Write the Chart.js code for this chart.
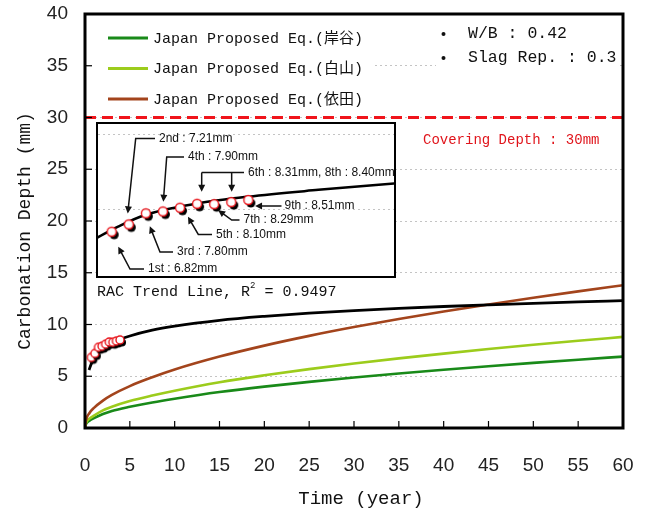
<!DOCTYPE html>
<html><head><meta charset="utf-8">
<script src="https://cdn.jsdelivr.net/npm/chart.js@4.4.1/dist/chart.umd.min.js"></script>
<style>
html,body{margin:0;padding:0;background:#fff;}
#wrap{position:relative;width:649px;height:515px;overflow:hidden;}
#main{position:absolute;left:0;top:0;}
#insetBox{position:absolute;left:96px;top:122px;width:300px;height:156px;box-sizing:border-box;border:2px solid #000;background:#fff;}
#inset{display:block;}
</style></head><body>
<div id="wrap">
<canvas id="main" width="649" height="515"></canvas>
<div id="insetBox"><canvas id="inset" width="296" height="152"></canvas></div>
</div>
<script>
// ---------------- data ----------------
const xTicks = [0,5,10,15,20,25,30,35,40,45,50,55,60];
const yTicks = [0,5,10,15,20,25,30,35,40];
const timeYears = [0, 0.1, 0.5, 1, 2, 3, 5, 7.5, 10, 15, 20, 25, 30, 35, 40, 45, 50, 55, 60];
const kishitani = [0, 0.35, 0.7, 0.95, 1.35, 1.65, 2.05, 2.47, 2.83, 3.47, 4.0, 4.46, 4.88, 5.27, 5.63, 5.97, 6.29, 6.60, 6.90];
const shiroyama = [0, 0.45, 0.9, 1.2, 1.7, 2.05, 2.6, 3.13, 3.6, 4.42, 5.09, 5.69, 6.23, 6.73, 7.19, 7.63, 8.04, 8.43, 8.80];
const yoda      = [0, 0.7, 1.45, 1.95, 2.65, 3.2, 4.05, 4.9, 5.65, 6.9, 7.96, 8.9, 9.75, 10.53, 11.26, 11.94, 12.59, 13.2, 13.79];
const seriesNames = ['Japan Proposed Eq.(岸谷)', 'Japan Proposed Eq.(白山)', 'Japan Proposed Eq.(依田)'];
const trendT = [0.45, 0.7, 1, 1.5, 2, 3, 4, 5, 7.5, 10, 15, 20, 25, 30, 35, 40, 45, 50, 55, 60];
const trendY = [5.60, 6.20, 6.69, 7.25, 7.64, 8.19, 8.59, 8.89, 9.45, 9.84, 10.40, 10.79, 11.10, 11.35, 11.56, 11.74, 11.90, 12.05, 12.18, 12.30];
const measT = [0.7, 1.1, 1.5, 1.9, 2.3, 2.7, 3.1, 3.5, 3.9];
const measY = [6.82, 7.21, 7.80, 7.90, 8.10, 8.31, 8.29, 8.40, 8.51];
const measNames = ['1st','2nd','3rd','4th','5th','6th','7th','8th','9th'];
const coverT = [0, 60];
const coverY = [30, 30];
const insetTrendT = [0.36, 0.85, 1.48, 2.73, 3.9, 5.54, 7.34];
const insetTrendY = [6.50, 7.09, 7.71, 8.33, 8.69, 9.05, 9.40];
const insetGrid = [8, 12];
const r2Value = '0.9497';
const wbValue = '0.42';
const slagValue = '0.3';
const coverLabel = 'Covering Depth : 30mm';

// ---------------- helpers ----------------
const pts = (xs, ys) => xs.map((x, i) => ({x: x, y: ys[i]}));
const MONO = "'Liberation Mono','Noto Sans CJK JP',monospace";
const SANS = "'Liberation Sans',Arial,sans-serif";

function makeMarker(r, off){
  const s = 2*Math.ceil(r + off + 3);
  const c = document.createElement('canvas'); c.width = s; c.height = s;
  const g = c.getContext('2d'); const cx = s/2, cy = s/2;
  g.fillStyle = '#000'; g.beginPath(); g.arc(cx+off, cy+off*1.2, r, 0, 2*Math.PI); g.fill();
  g.fillStyle = '#fff'; g.strokeStyle = '#e8141b'; g.lineWidth = 1.4;
  g.beginPath(); g.arc(cx, cy, r, 0, 2*Math.PI); g.fill(); g.stroke();
  return c;
}

// ---------------- main chart ----------------
const mainDecor = {
  id: 'mainDecor',
  beforeDatasetsDraw(chart){
    const ctx = chart.ctx;
    ctx.save();
    ctx.fillStyle = '#fff';
    ctx.fillRect(88, 18, 287, 94);
    ctx.fillRect(436, 18, 184, 56);
    ctx.restore();
  },
  afterDraw(chart){
    const ctx = chart.ctx, a = chart.chartArea;
    const xs = chart.scales.x, ys = chart.scales.y;
    ctx.save();
    // inward ticks
    ctx.strokeStyle = '#000'; ctx.lineWidth = 1.2;
    xs.ticks.forEach(t => {
      if (t.value <= xs.min || t.value >= xs.max) return;
      const p = xs.getPixelForValue(t.value);
      ctx.beginPath(); ctx.moveTo(p, a.bottom); ctx.lineTo(p, a.bottom - 7); ctx.stroke();
    });
    ys.ticks.forEach(t => {
      if (t.value <= ys.min || t.value >= ys.max) return;
      const p = ys.getPixelForValue(t.value);
      ctx.beginPath(); ctx.moveTo(a.left, p); ctx.lineTo(a.left + 7, p); ctx.stroke();
    });
    // frame
    ctx.lineWidth = 3; ctx.strokeStyle = '#000';
    ctx.strokeRect(a.left, a.top, a.right - a.left, a.bottom - a.top);
    // legend
    ctx.textBaseline = 'middle'; ctx.textAlign = 'left';
    ctx.font = '15px ' + MONO;
    const legendY = [38, 68.5, 99];
    chart.data.datasets.filter(d => d.inLegend).forEach((d, i) => {
      ctx.strokeStyle = d.borderColor; ctx.lineWidth = 3;
      ctx.beginPath(); ctx.moveTo(108, legendY[i]); ctx.lineTo(148, legendY[i]); ctx.stroke();
      ctx.fillStyle = '#111'; ctx.fillText(d.label, 153, legendY[i] + 1);
    });
    // info
    ctx.font = '16.5px ' + MONO; ctx.fillStyle = '#111';
    ctx.beginPath(); ctx.arc(443.5, 34, 2, 0, 2*Math.PI); ctx.fill();
    ctx.beginPath(); ctx.arc(443.5, 58, 2, 0, 2*Math.PI); ctx.fill();
    ctx.fillText('W/B : ' + wbValue, 468, 34);
    ctx.fillText('Slag Rep. : ' + slagValue, 468, 58);
    // covering depth label
    ctx.font = '14px ' + MONO; ctx.fillStyle = '#e0141b';
    ctx.fillText(coverLabel, 423, 140);
    // R2 label
    ctx.font = '15px ' + MONO; ctx.fillStyle = '#111';
    const t1 = 'RAC Trend Line, R';
    ctx.fillText(t1, 97, 292);
    let w = ctx.measureText(t1).width;
    ctx.font = '9px ' + MONO;
    ctx.fillText('2', 97 + w, 286);
    const w2 = ctx.measureText('2').width;
    ctx.font = '15px ' + MONO;
    ctx.fillText(' = ' + r2Value, 97 + w + w2, 292);
    // axis titles
    ctx.font = '19px ' + MONO; ctx.fillStyle = '#111'; ctx.textAlign = 'center';
    ctx.fillText('Time (year)', 361, 499);
    ctx.translate(25, 231); ctx.rotate(-Math.PI/2);
    ctx.font = '18px ' + MONO;
    ctx.fillText('Carbonation Depth (mm)', 0, 0);
    ctx.restore();
  }
};

const markerMain = makeMarker(4, 2);
const markerInset = makeMarker(4.5, 2.5);

new Chart(document.getElementById('main'), {
  type: 'scatter',
  data: {
    datasets: [
      {label: seriesNames[0], inLegend: true, data: pts(timeYears, kishitani), showLine: true, borderColor: '#198a19', borderWidth: 2.6, pointRadius: 0, cubicInterpolationMode: 'monotone', order: 5},
      {label: seriesNames[1], inLegend: true, data: pts(timeYears, shiroyama), showLine: true, borderColor: '#9ccc1c', borderWidth: 2.6, pointRadius: 0, cubicInterpolationMode: 'monotone', order: 4},
      {label: seriesNames[2], inLegend: true, data: pts(timeYears, yoda), showLine: true, borderColor: '#a3441c', borderWidth: 2.6, pointRadius: 0, cubicInterpolationMode: 'monotone', order: 3},
      {label: 'RAC Trend', data: pts(trendT, trendY), showLine: true, borderColor: '#000', borderWidth: 2.8, pointRadius: 0, cubicInterpolationMode: 'monotone', order: 2},
      {label: 'Measured', data: pts(measT, measY), showLine: false, pointStyle: markerMain, pointRadius: 5, order: 1},
      {label: 'Covering Depth', data: pts(coverT, coverY), showLine: true, borderColor: '#f0141b', borderWidth: 3, borderDash: [11, 6], pointRadius: 0, order: 6}
    ]
  },
  options: {
    responsive: false, animation: false, events: [],
    layout: {autoPadding: false, padding: {top: 14, right: 26, left: 0, bottom: 0}},
    plugins: {legend: {display: false}, tooltip: {enabled: false}},
    scales: {
      x: {
        type: 'linear', min: 0, max: 60,
        afterBuildTicks: s => { s.ticks = xTicks.map(v => ({value: v})); },
        ticks: {font: {family: SANS, size: 19}, color: '#222', padding: 26, maxRotation: 0},
        grid: {display: false, drawTicks: false},
        border: {display: false},
        afterFit: s => { s.height = 87; s.paddingLeft = 0; s.paddingRight = 0; }
      },
      y: {
        min: 0, max: 40,
        afterBuildTicks: s => { s.ticks = yTicks.map(v => ({value: v})); },
        ticks: {font: {family: SANS, size: 19}, color: '#222', padding: 17},
        grid: {color: '#c4c4c4', lineWidth: 1, drawTicks: false},
        border: {display: false, dash: [2, 3]},
        afterFit: s => { s.width = 85; s.paddingTop = 0; s.paddingBottom = 0; }
      }
    }
  },
  plugins: [mainDecor]
});

// ---------------- inset chart ----------------
const insetNotes = [
  {idx: [0], text: measNames[0] + ' : ' + measY[0].toFixed(2) + 'mm', tx: 50, ty: 145, elbow: 32, end: [[6.6, 15]]},
  {idx: [1], text: measNames[1] + ' : ' + measY[1].toFixed(2) + 'mm', tx: 61, ty: 14.5, elbow: 37.7, end: [[-1, -11]]},
  {idx: [2], text: measNames[2] + ' : ' + measY[2].toFixed(2) + 'mm', tx: 79, ty: 128, elbow: 62, end: [[4, 13]]},
  {idx: [3], text: measNames[3] + ' : ' + measY[3].toFixed(2) + 'mm', tx: 90, ty: 33, elbow: 68.7, end: [[0.4, -9.7]]},
  {idx: [4], text: measNames[4] + ' : ' + measY[4].toFixed(2) + 'mm', tx: 118, ty: 110.5, elbow: 100.3, end: [[8, 9]]},
  {idx: [5, 7], text: measNames[5] + ' : ' + measY[5].toFixed(2) + 'mm, ' + measNames[7] + ' : ' + measY[7].toFixed(2) + 'mm', tx: 150, ty: 48.5, bracket: true, end: [[4.6, -12], [0.4, -10.4]]},
  {idx: [6], text: measNames[6] + ' : ' + measY[6].toFixed(2) + 'mm', tx: 145.5, ty: 96, elbow: 133.7, end: [[4, 6]]},
  {idx: [8], text: measNames[8] + ' : ' + measY[8].toFixed(2) + 'mm', tx: 186.5, ty: 82, elbow: null, end: [[6.7, 6]]}
];

function arrowHead(ctx, x0, y0, x1, y1){
  const ang = Math.atan2(y1 - y0, x1 - x0), L = 7, W = 3.5;
  ctx.beginPath();
  ctx.moveTo(x1, y1);
  ctx.lineTo(x1 - L*Math.cos(ang) + W*Math.sin(ang), y1 - L*Math.sin(ang) - W*Math.cos(ang));
  ctx.lineTo(x1 - L*Math.cos(ang) - W*Math.sin(ang), y1 - L*Math.sin(ang) + W*Math.cos(ang));
  ctx.closePath(); ctx.fill();
}

const insetDecor = {
  id: 'insetDecor',
  afterDraw(chart){
    const ctx = chart.ctx, xs = chart.scales.x, ys = chart.scales.y;
    ctx.save();
    ctx.strokeStyle = '#111'; ctx.fillStyle = '#111'; ctx.lineWidth = 1.5;
    ctx.font = '12px ' + SANS; ctx.textBaseline = 'middle'; ctx.textAlign = 'left';
    insetNotes.forEach(n => {
      const ends = n.idx.map((k, j) => [xs.getPixelForValue(measT[k]) + n.end[j][0], ys.getPixelForValue(measY[k]) + n.end[j][1]]);
      if (n.bracket) {
        const xl = Math.min(...ends.map(e => e[0]));
        ctx.beginPath(); ctx.moveTo(n.tx - 4, n.ty); ctx.lineTo(xl, n.ty); ctx.stroke();
        ends.forEach(e => {
          ctx.beginPath(); ctx.moveTo(e[0], n.ty); ctx.lineTo(e[0], e[1] - 3); ctx.stroke();
          arrowHead(ctx, e[0], n.ty, e[0], e[1]);
        });
      } else if (n.elbow === null) {
        const e = ends[0];
        ctx.beginPath(); ctx.moveTo(n.tx - 3, n.ty); ctx.lineTo(e[0] + 3, e[1]); ctx.stroke();
        arrowHead(ctx, n.tx - 3, n.ty, e[0], e[1]);
      } else {
        const e = ends[0];
        ctx.beginPath(); ctx.moveTo(n.tx - 4, n.ty); ctx.lineTo(n.elbow, n.ty);
        const ang = Math.atan2(e[1] - n.ty, e[0] - n.elbow);
        ctx.lineTo(e[0] - 3*Math.cos(ang), e[1] - 3*Math.sin(ang)); ctx.stroke();
        arrowHead(ctx, n.elbow, n.ty, e[0], e[1]);
      }
      ctx.fillText(n.text, n.tx, n.ty);
    });
    ctx.restore();
  }
};

new Chart(document.getElementById('inset'), {
  type: 'scatter',
  data: {
    datasets: [
      {data: pts(measT, measY), showLine: false, pointStyle: markerInset, pointRadius: 6, order: 1},
      {data: pts(insetTrendT, insetTrendY), showLine: true, borderColor: '#000', borderWidth: 2.5, pointRadius: 0, cubicInterpolationMode: 'monotone', order: 2}
    ]
  },
  options: {
    responsive: false, animation: false, events: [],
    layout: {autoPadding: false, padding: 0},
    plugins: {legend: {display: false}, tooltip: {enabled: false}},
    scales: {
      x: {type: 'linear', min: 0.38, max: 7.31, display: false},
      y: {
        min: 4.46, max: 12.56,
        afterBuildTicks: s => { s.ticks = insetGrid.map(v => ({value: v})); },
        ticks: {display: false},
        grid: {color: '#c4c4c4', lineWidth: 1, drawTicks: false},
        border: {display: false, dash: [2, 3]},
        afterFit: s => { s.width = 0; }
      }
    }
  },
  plugins: [insetDecor]
});
</script>
</body></html>
